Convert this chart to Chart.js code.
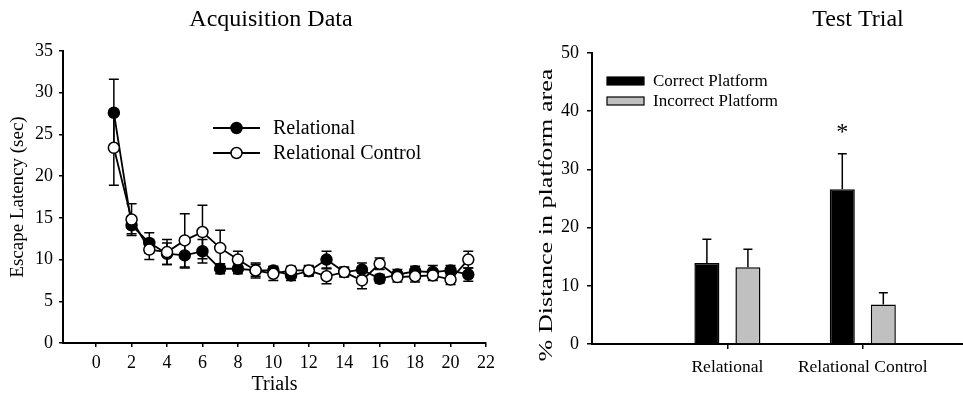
<!DOCTYPE html>
<html>
<head>
<meta charset="utf-8">
<script src="https://cdn.jsdelivr.net/npm/chart.js@4/dist/chart.umd.min.js"></script>
<style>
  html, body { margin: 0; padding: 0; background: #fff; }
  #wrap { position: relative; width: 963px; height: 393px; overflow: hidden; }
  #acq { position: absolute; left: 0; top: 0; }
  #test { position: absolute; left: 500px; top: 0; }
</style>
</head>
<body>
<div id="wrap">
  <canvas id="acq" width="500" height="393"></canvas>
  <canvas id="test" width="463" height="393"></canvas>
</div>
<script>
// acquisition data (escape latency, sec)
const trials = [1, 2, 3, 4, 5, 6, 7, 8, 9, 10, 11, 12, 13, 14, 15, 16, 17, 18, 19, 20, 21];
const relational = [27.6, 14.1, 12.0, 10.7, 10.5, 11.0, 8.9, 8.9, 8.7, 8.7, 8.1, 8.6, 10.0, 8.5, 8.8, 7.7, 8.2, 8.6, 8.5, 8.7, 8.2];
const relationalErr = [4.0, 1.0, 1.2, 1.3, 1.5, 1.4, 0.6, 0.6, 0.7, 0.5, 0.6, 0.6, 1.0, 0.5, 0.8, 0.5, 0.6, 0.6, 0.8, 0.6, 0.8];
const relationalCtrl = [23.4, 14.8, 11.2, 10.9, 12.3, 13.3, 11.4, 10.0, 8.7, 8.3, 8.7, 8.7, 8.0, 8.5, 7.5, 9.5, 7.9, 8.0, 8.1, 7.6, 10.0];
const relationalCtrlErr = [4.5, 1.9, 1.2, 1.5, 3.2, 3.2, 2.1, 1.0, 0.9, 0.8, 0.5, 0.6, 0.9, 0.6, 1.0, 0.7, 0.6, 0.7, 0.6, 0.6, 1.0];
const trialTicks = [0, 2, 4, 6, 8, 10, 12, 14, 16, 18, 20, 22];

// test trial (% distance in platform area)
const testGroups = ["Relational", "Relational Control"];
const correctPlatform = [13.9, 26.6];
const correctErr = [4.1, 6.1];
const incorrectPlatform = [13.2, 6.8];
const incorrectErr = [3.1, 2.0];
const sigMarks = ["", "*"];

const SERIF = "'Liberation Serif', 'Times New Roman', serif";
Chart.defaults.font.family = SERIF;
Chart.defaults.color = "#000";

const errorBars = {
  id: "errorBars",
  beforeDatasetsDraw(chart, args, opts) {
    const ctx = chart.ctx;
    const yScale = chart.scales.y;
    ctx.save();
    ctx.strokeStyle = "#000";
    ctx.lineWidth = 1.5;
    chart.data.datasets.forEach((ds, i) => {
      if (!ds.errors) return;
      const meta = chart.getDatasetMeta(i);
      meta.data.forEach((el, j) => {
        const v = meta.controller.getParsed(j).y;
        const e = ds.errors[j];
        const top = yScale.getPixelForValue(v + e);
        const bot = opts.upOnly ? yScale.getPixelForValue(v) : yScale.getPixelForValue(v - e);
        ctx.beginPath();
        ctx.moveTo(el.x, top);
        ctx.lineTo(el.x, bot);
        ctx.moveTo(el.x - opts.cap, top);
        ctx.lineTo(el.x + opts.cap, top);
        if (!opts.upOnly) {
          ctx.moveTo(el.x - opts.cap, bot);
          ctx.lineTo(el.x + opts.cap, bot);
        }
        ctx.stroke();
      });
    });
    ctx.restore();
  },
};

const decorations = {
  id: "decorations",
  afterDraw(chart, args, opts) {
    const ctx = chart.ctx;
    ctx.save();
    ctx.fillStyle = "#000";
    ctx.strokeStyle = "#000";
    ctx.textBaseline = "middle";

    ctx.font = "24px " + SERIF;
    ctx.textAlign = "center";
    ctx.fillText(opts.title, opts.titleX, opts.titleY);

    // tall axis title (the source figure stretches its text lengthwise)
    if (opts.yTitle) {
      const t = opts.yTitle;
      ctx.save();
      ctx.translate(t.x, t.y);
      ctx.rotate(-Math.PI / 2);
      ctx.scale(t.stretch, 1);
      ctx.font = t.size + "px " + SERIF;
      ctx.fillText(t.text, 0, 0);
      ctx.restore();
    }

    ctx.textAlign = "left";
    ctx.font = opts.legendFont + "px " + SERIF;
    opts.legend.forEach((item, i) => {
      const y = opts.legendY + i * opts.legendGap;
      if (item.kind === "marker") {
        ctx.lineWidth = 1.8;
        ctx.beginPath();
        ctx.moveTo(opts.legendX, y);
        ctx.lineTo(opts.legendX + 47, y);
        ctx.stroke();
        ctx.beginPath();
        ctx.arc(opts.legendX + 23.5, y, 5.5, 0, Math.PI * 2);
        ctx.fillStyle = item.fill;
        ctx.fill();
        ctx.lineWidth = 1.5;
        ctx.stroke();
        ctx.fillStyle = "#000";
        ctx.fillText(item.text, opts.legendX + 60, y + 1);
      } else {
        ctx.fillStyle = item.fill;
        ctx.fillRect(opts.legendX, y - 4, 37, 8);
        ctx.lineWidth = 1.2;
        ctx.strokeRect(opts.legendX, y - 4, 37, 8);
        ctx.fillStyle = "#000";
        ctx.fillText(item.text, opts.legendX + 46, y + 1);
      }
    });

    if (opts.marks) {
      const meta = chart.getDatasetMeta(0);
      const ds = chart.data.datasets[0];
      ctx.textAlign = "center";
      ctx.font = "24px " + SERIF;
      opts.marks.forEach((m, j) => {
        if (!m) return;
        const el = meta.data[j];
        const v = meta.controller.getParsed(j).y + ds.errors[j];
        ctx.fillText(m, el.x, chart.scales.y.getPixelForValue(v) - 21);
      });
    }
    ctx.restore();
  },
};

const axisLook = {
  grid: { display: true, drawOnChartArea: false, drawTicks: true, tickLength: 4, color: "#000", lineWidth: 1.5 },
  border: { display: true, color: "#000", width: 2 },
};

new Chart(document.getElementById("acq"), {
  type: "line",
  data: {
    datasets: [
      {
        label: "Relational",
        data: trials.map((t, i) => ({ x: t, y: relational[i] })),
        errors: relationalErr,
        borderColor: "#000",
        borderWidth: 1.8,
        pointBackgroundColor: "#000",
        pointBorderColor: "#000",
        pointBorderWidth: 1.5,
        pointRadius: 5.5,
        order: 1,
      },
      {
        label: "Relational Control",
        data: trials.map((t, i) => ({ x: t, y: relationalCtrl[i] })),
        errors: relationalCtrlErr,
        borderColor: "#000",
        borderWidth: 1.8,
        pointBackgroundColor: "#fff",
        pointBorderColor: "#000",
        pointBorderWidth: 1.5,
        pointRadius: 5.5,
        order: 0,
      },
    ],
  },
  options: {
    responsive: false,
    animation: false,
    layout: { padding: { top: 51, right: 13, left: 0, bottom: 0 } },
    scales: {
      x: {
        type: "linear",
        min: -1.87,
        max: 22,
        afterBuildTicks: (scale) => {
          scale.ticks = trialTicks.map((v) => ({ value: v }));
        },
        afterFit: (scale) => {
          scale.height = 50;
        },
        ticks: { font: { size: 18 }, padding: 5, maxRotation: 0 },
        title: { display: true, text: "Trials", font: { size: 20, lineHeight: 0.8 }, padding: { top: 0, bottom: 0 } },
        ...axisLook,
      },
      y: {
        min: 0,
        max: 35,
        ticks: { stepSize: 5, font: { size: 18 }, padding: 6 },
        afterFit: (scale) => {
          scale.width = 63;
        },
        title: { display: true, text: "Escape Latency (sec)", font: { size: 19 }, padding: { top: 7, bottom: 0 } },
        ...axisLook,
      },
    },
    plugins: {
      legend: { display: false },
      tooltip: { enabled: false },
      errorBars: { cap: 5, upOnly: false },
      decorations: {
        title: "Acquisition Data",
        titleX: 271,
        titleY: 20,
        legendX: 213,
        legendY: 128,
        legendGap: 25,
        legendFont: 20,
        legend: [
          { text: "Relational", kind: "marker", fill: "#000" },
          { text: "Relational Control", kind: "marker", fill: "#fff" },
        ],
      },
    },
  },
  plugins: [errorBars, decorations],
});

new Chart(document.getElementById("test"), {
  type: "bar",
  data: {
    datasets: [
      {
        label: "Correct Platform",
        data: testGroups.map((g, i) => ({ x: i + 1, y: correctPlatform[i] })),
        errors: correctErr,
        backgroundColor: "#000",
        borderColor: "#000",
        borderWidth: 1.5,
      },
      {
        label: "Incorrect Platform",
        data: testGroups.map((g, i) => ({ x: i + 1, y: incorrectPlatform[i] })),
        errors: incorrectErr,
        backgroundColor: "#c0c0c0",
        borderColor: "#000",
        borderWidth: 1.5,
      },
    ],
  },
  options: {
    responsive: false,
    animation: false,
    categoryPercentage: 0.606,
    barPercentage: 0.61,
    layout: { padding: { top: 53, right: 0, left: 0, bottom: 0 } },
    scales: {
      x: {
        type: "linear",
        offset: false,
        min: 0,
        max: 2.74,
        afterBuildTicks: (scale) => {
          scale.ticks = testGroups.map((g, i) => ({ value: i + 1 }));
        },
        afterFit: (scale) => {
          scale.height = 49;
        },
        ticks: {
          font: { size: 17.5 },
          padding: 8,
          maxRotation: 0,
          callback: (v) => testGroups[v - 1],
        },
        ...axisLook,
        grid: { ...axisLook.grid, tickLength: 5, offset: false },
      },
      y: {
        min: 0,
        max: 50,
        ticks: { stepSize: 10, font: { size: 18 }, padding: 8 },
        afterFit: (scale) => {
          scale.width = 92;
        },
        ...axisLook,
        grid: { ...axisLook.grid, tickLength: 5 },
      },
    },
    plugins: {
      legend: { display: false },
      tooltip: { enabled: false },
      errorBars: { cap: 4.5, upOnly: true },
      decorations: {
        title: "Test Trial",
        titleX: 358,
        titleY: 20,
        yTitle: { text: "% Distance in platform area", x: 47, y: 215, size: 18, stretch: 1.45 },
        legendX: 107,
        legendY: 81,
        legendGap: 20,
        legendFont: 17,
        legend: [
          { text: "Correct Platform", kind: "box", fill: "#000" },
          { text: "Incorrect Platform", kind: "box", fill: "#c0c0c0" },
        ],
        marks: sigMarks,
      },
    },
  },
  plugins: [errorBars, decorations],
});
</script>
</body>
</html>
